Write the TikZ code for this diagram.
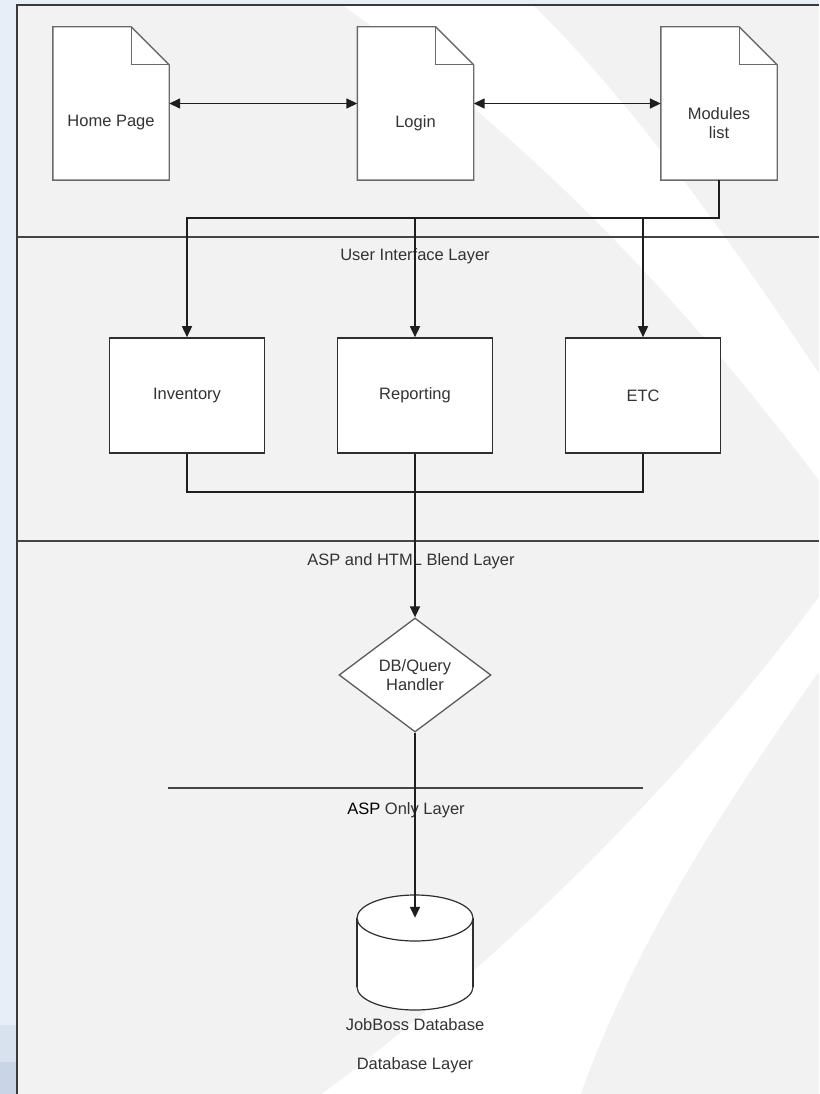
\documentclass[tikz,border=0pt]{standalone}
\usepackage{fontspec}
\setmainfont{Liberation Sans}
\usetikzlibrary{arrows.meta,shapes.geometric}

\definecolor{wallblue}{HTML}{E8EEF7}
\definecolor{wallband}{HTML}{D8E1EE}
\definecolor{wallbanddark}{HTML}{C9D5E7}
\definecolor{sheetgray}{HTML}{F2F2F2}
\definecolor{frameline}{HTML}{3A3A3A}
\definecolor{pageline}{HTML}{6A6A6A}
\definecolor{boxline}{HTML}{2E2E2E}
\definecolor{linkgray}{HTML}{1E1E1E}
\definecolor{layergray}{HTML}{454545}
\definecolor{labelgray}{HTML}{333333}
\definecolor{diagray}{HTML}{5A5A5A}

\pgfdeclarelayer{bg}
\pgfdeclarelayer{pages}
\pgfsetlayers{bg,pages,main}

\newcommand{\labelfont}{\fontsize{16.5}{19}\selectfont}

\tikzset{
  pagebox/.style={minimum width=116pt, minimum height=153pt, inner sep=0pt},
  pagetext/.style={font=\labelfont, text=labelgray, align=center, yshift=-19.5pt},
  modbox/.style={draw=boxline, line width=1.6pt, fill=white, minimum width=155pt,
    minimum height=115pt, font=\labelfont, text=labelgray},
  querybox/.style={diamond, draw=diagray, line width=1.3pt, fill=white, minimum width=152pt,
    minimum height=114pt, inner sep=0pt, align=center, font=\labelfont, text=labelgray},
  storebox/.style={minimum width=116pt, minimum height=115pt, inner sep=0pt},
  layerline/.style={draw=layergray, line width=2pt},
  layertext/.style={font=\labelfont, text=labelgray},
  link/.style={draw=linkgray, line width=1.5pt},
  pageline/.style={draw=pageline, line width=1.4pt},
}

% page with a folded corner, around a named node
\newcommand{\webpage}[1]{%
  \filldraw[pageline, fill=white] (#1.south west) -- (#1.north west) -- ([xshift=-38pt]#1.north east)
    -- ([yshift=-38pt]#1.north east) -- (#1.south east) -- cycle;
  \draw[pageline] ([xshift=-38pt]#1.north east) |- ([yshift=-38pt]#1.north east);
}

\begin{document}
\begin{tikzpicture}[x=1pt, y=-1pt, >={Triangle[length=11pt,width=10pt]}]
\useasboundingbox (0,0) rectangle (819,1094);

% wallpaper behind the sheet
\begin{pgfonlayer}{bg}
\fill[wallblue] (0,0) rectangle (819,1094);
\fill[wallband] (0,1025) rectangle (17,1094);
\fill[wallbanddark] (0,1062) rectangle (17,1094);
\fill[sheetgray] (17,5) rectangle (819,1094);
\begin{scope}
\clip (17,5) rectangle (819,1094);
\fill[white] (336,0) .. controls (480,105) and (640,240) .. (830,495)
  -- (830,390) .. controls (720,225) and (630,100) .. (528,0) -- cycle;
\fill[white] (830,582) .. controls (700,760) and (520,950) .. (300,1110)
  -- (575,1110) .. controls (630,950) and (720,810) .. (830,656) -- cycle;
\end{scope}
\draw[frameline, line width=1.6pt] (17,1094) -- (17,5) -- (819,5);
\end{pgfonlayer}

% pages
\node[pagebox, label={[pagetext]center:Home Page}] (home) at (111,103.5) {};
\node[pagebox, label={[pagetext]center:Login}] (login) at (415.5,103.5) {};
\node[pagebox, label={[pagetext]center:{Modules\\list}}] (mods) at (719,103.5) {};

% modules
\node[modbox] (inv) at (187,395.5) {Inventory};
\node[modbox] (rep) at (415,395.5) {Reporting};
\node[modbox] (etc) at (643,395.5) {ETC};

\node[querybox] (dbq) at (415,675) {DB/Query\\Handler};
\node[storebox] (jobboss) at (415,952.5) {};
\coordinate (dbtop) at ([yshift=-23pt]jobboss.north);

\begin{pgfonlayer}{pages}
\webpage{home}
\webpage{login}
\webpage{mods}
\filldraw[draw=boxline, line width=1.2pt, fill=white] (415,987) ellipse [x radius=58, y radius=23];
\fill[white] (357,918) rectangle (473,987);
\draw[boxline, line width=1.2pt] (357,918) -- (357,987) (473,918) -- (473,987);
\filldraw[draw=boxline, line width=1.2pt, fill=white] (415,918) ellipse [x radius=58, y radius=23];
\end{pgfonlayer}

% layers
\draw[layerline] (17,237) -- (819,237);
\draw[layerline] (17,541) -- (819,541);
\draw[layerline] (168,788) -- (643,788);

\node[layertext] (uilayer) at (415,256) {User Interface Layer};
\node[layertext] (blendlayer) at (411,561) {ASP and HTML Blend Layer};
\node[layertext] (asplayer) at (406,810) {{\color{black}ASP}\ Only Layer};
\node[layertext] (dbname) at (415,1025) {JobBoss Database};
\node[layertext] (dblayer) at (415,1065) {Database Layer};

% connectors
\draw[link,<->] (home.east) -- (login.west);
\draw[link,<->] (login.east) -- (mods.west);
\coordinate (uibus) at ([yshift=-38pt]mods.south);
\draw[link,->] (mods.south) -- (uibus) -| (inv.north);
\draw[link,->] (uibus -| rep.north) -- (rep.north);
\draw[link,->] (uibus -| etc.north) -- (etc.north);
\coordinate (midbus) at ([yshift=-38pt]rep.south);
\draw[link] (inv.south) |- (midbus) -| (etc.south);
\draw[link,->] (rep.south) -- (dbq.north);
\draw[link,->] (dbq.south) -- (dbtop);

\end{tikzpicture}
\end{document}
